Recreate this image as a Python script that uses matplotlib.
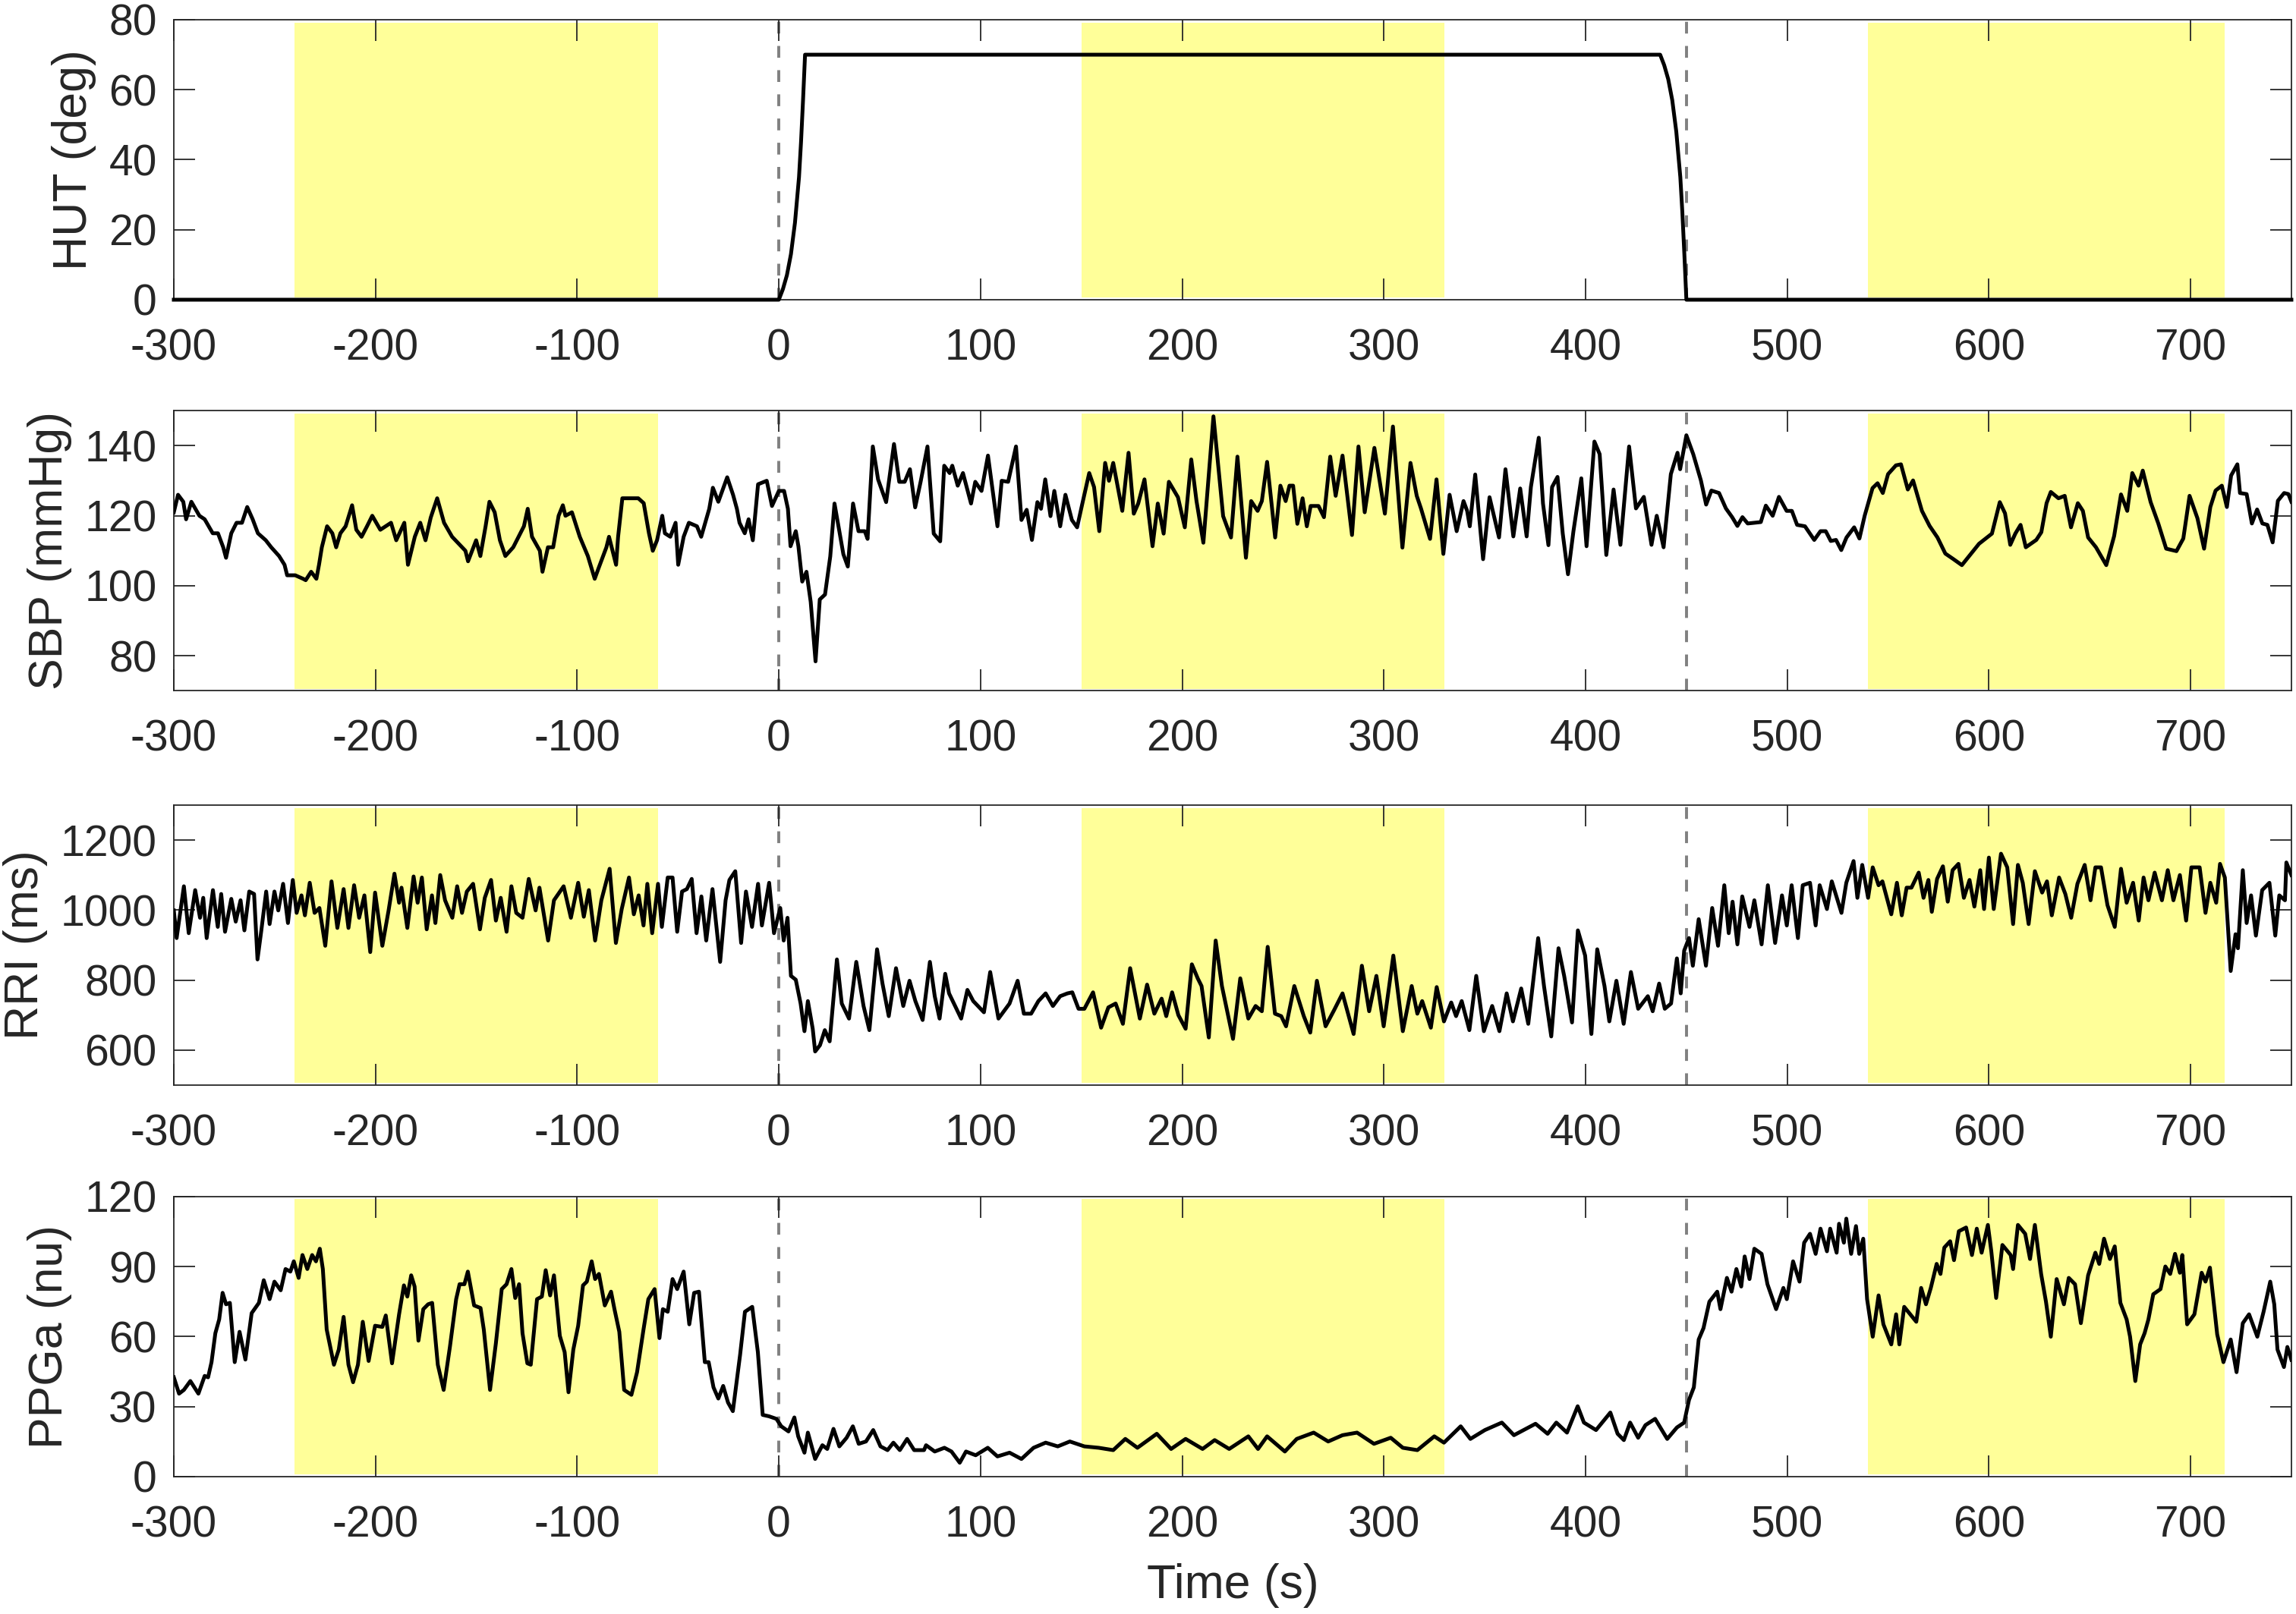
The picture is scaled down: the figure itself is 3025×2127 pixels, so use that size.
import numpy as np
import matplotlib
matplotlib.use('Agg')
import matplotlib.pyplot as plt

# Values: (time s, value)
hut_pts = [(-300, 0), (0, 0), (2, 3), (4, 7), (6, 13), (8, 22), (10, 35), (11, 45), (12, 57), (13, 70),
           (437, 70), (439, 67), (441, 63), (443, 57), (445, 48), (447, 35), (448, 25), (449, 13), (450, 0),
           (750, 0)]

sbp_pts = [(-300, 121), (-297.9, 126), (-295.3, 124), (-293.9, 119), (-291.3, 124), (-287.3, 120), (-284.7, 119),
           (-280.7, 115), (-278.1, 115), (-275.5, 111), (-274.1, 108), (-271.5, 115), (-268.9, 118), (-266.2, 118),
           (-263.6, 122.5), (-260.9, 119), (-258.3, 115), (-254.4, 113), (-251.7, 111), (-247.8, 108.5), (-245.1, 106),
           (-243.8, 103), (-239.8, 103), (-235.9, 102), (-234.6, 101.6), (-231.9, 104), (-229.3, 102), (-228, 106),
           (-226.6, 111), (-224, 117), (-221.4, 115), (-219.5, 111), (-217.4, 115), (-214.8, 117), (-211.6, 123),
           (-209.5, 116), (-206.9, 114), (-204.2, 117), (-201.6, 120), (-197.6, 116), (-192.3, 118), (-189.7, 113),
           (-185.7, 118), (-183.9, 106), (-180.5, 114), (-177.8, 118), (-175.2, 113), (-172.6, 119.5), (-169.4, 125),
           (-166, 118), (-162, 114), (-155.4, 110), (-154.1, 107), (-150.1, 113), (-148, 108.5), (-145.4, 117),
           (-143.5, 124), (-140.9, 121), (-138.3, 113), (-135.6, 108.5), (-131.7, 111), (-126.4, 117), (-124.5, 122),
           (-122.4, 114), (-118.5, 110), (-117.2, 104), (-114.5, 111), (-111.9, 111), (-109.2, 120), (-107.1, 123),
           (-105.8, 120), (-102.6, 121), (-98.7, 114), (-94.7, 108.5), (-91.3, 102), (-89.4, 105), (-85.5, 111),
           (-84.2, 114), (-80.7, 106), (-79.7, 114), (-77.6, 125), (-73.6, 125), (-69.7, 125), (-67, 123.6),
           (-64.4, 115), (-62.5, 110), (-60.4, 113), (-57.8, 120), (-56.5, 115), (-53.8, 114), (-51.2, 118),
           (-49.9, 106), (-47.2, 114), (-44.6, 118), (-40.6, 117), (-38.5, 114), (-34.5, 122), (-32.7, 128),
           (-30, 124), (-25.6, 131), (-22.7, 126), (-20.8, 122), (-19.5, 118), (-16.9, 115), (-15, 119),
           (-12.9, 113), (-10.3, 129), (-6, 130), (-3.4, 122.8), (0, 127.1), (2.6, 127.1), (4.5, 122), (5.8, 111.3),
           (8.4, 115.6), (9.7, 111.3), (11.6, 101.2), (13.7, 104), (15.8, 95.4), (18.2, 78.4), (20.3, 96.1),
           (22.9, 97.5), (25.5, 108.4), (27.6, 123.5), (32, 109), (34.2, 105.5), (36.8, 123.5), (39.5, 115.6),
           (42.6, 115.6), (44, 113.4), (46.6, 139.8), (49.2, 130.4), (53.2, 123.9), (57.1, 140.5), (59.7, 129.7),
           (62.4, 129.7), (65, 133.3), (67.6, 122.4), (70.3, 129.7), (73.7, 139.8), (76.8, 114.9), (80, 112.7),
           (82, 134.3), (84.7, 132.2), (86, 134.3), (88.7, 128.6), (91.3, 132.2), (95.3, 123.5), (97.4, 129.7),
           (100.5, 127.1), (103.7, 137.2), (108.4, 117), (110.5, 130), (113.7, 129.7), (117.6, 139.8),
           (120.3, 118.8), (122.9, 121.7), (125.5, 113.1), (128.2, 123.9), (130, 122), (132.1, 130.4),
           (134.7, 119.9), (136.6, 127.1), (139.5, 117), (142.1, 126), (145.3, 118.8), (147.9, 116.7),
           (150.5, 123.5), (153.9, 132.2), (156.3, 128.2), (158.9, 115.6), (161.8, 135.1), (163.7, 130),
           (165.8, 135.1), (170.3, 121.4), (173.4, 138), (176, 120.6), (178.2, 123.5), (181.3, 130.4),
           (185.3, 111.3), (187.9, 123.5), (190.8, 114.9), (193.4, 129.7), (197.9, 125.3), (201.3, 116.7),
           (204.5, 136.1), (207.1, 124.2), (210.5, 112.3), (215.5, 148.4), (220.3, 119.9), (224.2, 113.8),
           (227.4, 136.9), (231.6, 108), (234.2, 124.2), (237.4, 121.4), (239.5, 124.2), (242.1, 135.4),
           (246.1, 113.8), (248.7, 128.6), (251.3, 124.2), (253.2, 128.6), (255, 128.6), (257.1, 117.7),
           (259.7, 125), (261.8, 117), (263.7, 122.8), (267.6, 122.8), (270.3, 119.6), (273.4, 136.9),
           (276.1, 125.7), (279.5, 137.2), (284.2, 114.5), (287.4, 139.8), (290.5, 121), (295.3, 139.4),
           (300.5, 120.6), (304.5, 145.5), (309.2, 110.9), (313.2, 135.1), (316.3, 125.7), (318.4, 122.1),
           (322.9, 113.4), (326.1, 130.4), (329.5, 109.1), (332.6, 126), (336.1, 115.6), (339.5, 124.2),
           (341.3, 121.4), (342.6, 117), (345.3, 131.8), (349.2, 107.6), (352.4, 125.3), (357.1, 113.8),
           (360.3, 133.3), (364.2, 114.1), (367.6, 127.8), (370.8, 114.1), (372.9, 128.2), (376.8, 142.3),
           (378.9, 123.5), (381.6, 111.6), (383.4, 128.2), (386.1, 131.1), (388.7, 114.9), (391.3, 103.3),
           (394, 115.6), (397.9, 130.7), (400.5, 111.3), (404.4, 141.2), (407, 137.6), (410.3, 108.8),
           (413.9, 127.5), (417.3, 111.7), (421.6, 139.8), (425, 122.1), (428.9, 125.4), (432.7, 111.7),
           (435.3, 120), (438.7, 111), (442.3, 131.9), (445.6, 138), (446.9, 133.3), (450, 143), (453.4, 137.6),
           (457.2, 130.1), (459.8, 123.2), (462.4, 127.2), (466.2, 126.5), (469.6, 122.1), (472.7, 119.6),
           (475.3, 117.1), (477.8, 119.6), (480.4, 117.8), (486.9, 118.2), (489.4, 122.9), (492.8, 120),
           (495.9, 125.4), (499.7, 121.4), (502.3, 121.4), (504.9, 117.4), (508.8, 117), (513.4, 113.1),
           (516.5, 115.6), (519.1, 115.6), (521.6, 112.8), (524.2, 113.1), (526.8, 110.2), (529.4, 113.8),
           (533.2, 116.7), (535.8, 113.5), (538.4, 120), (542.3, 127.9), (544.8, 129.3), (547.4, 126.5),
           (550, 131.9), (553.9, 134.4), (556.4, 134.7), (559.8, 127.5), (562.4, 130.1), (566.8, 121.4),
           (570.6, 117.1), (574.5, 113.8), (578.4, 109.2), (582.2, 107.7), (586.6, 105.9), (591.2, 109.2),
           (595.1, 112), (601.5, 114.9), (605.4, 123.9), (608, 120.7), (610.6, 111.7), (613.1, 114.9),
           (615.7, 117.4), (618.3, 111), (623.5, 113.1), (626, 115.3), (628.6, 123.6), (630.7, 126.8),
           (634.5, 125), (637.6, 125.7), (640.7, 116.7), (644.1, 123.6), (646.6, 121.4), (649.2, 113.8),
           (653.1, 111), (658.2, 105.9), (662.1, 114.2), (665.5, 126.1), (668.6, 121.4), (671.1, 132.2),
           (674.2, 128.6), (676.3, 132.9), (680.2, 123.9), (684, 117.8), (687.9, 110.6), (693, 109.9),
           (696.4, 113.5), (699.5, 125.7), (703.4, 119.3), (706.7, 110.6), (709.8, 122.5), (712.4, 127.2),
           (715.5, 128.6), (718, 122.5), (720.1, 131.5), (723.2, 134.7), (724.5, 126.5), (727.8, 126.2),
           (730.4, 117.8), (733, 121.8), (735.6, 117.8), (738.1, 117.4), (740.7, 112.4), (743.3, 124.3),
           (746.4, 126.5), (748.5, 126.2), (750, 124)]

rri_pts = [(-300, 999), (-298.6, 920), (-295, 1068), (-292.6, 934), (-289.4, 1057), (-287, 978), (-285.4, 1035),
           (-283.7, 920), (-280.6, 1057), (-278.2, 952), (-276.5, 1046), (-274.6, 938), (-271.5, 1032),
           (-269.3, 967), (-266.9, 1028), (-265, 942), (-262.6, 1053), (-260.2, 1046), (-258.5, 859),
           (-256.6, 942), (-254.2, 1053), (-252.5, 960), (-250.1, 1053), (-248.2, 999), (-245.8, 1075),
           (-243.4, 963), (-241, 1086), (-239.1, 992), (-236.7, 1042), (-235, 985), (-232.6, 1078), (-230.2, 992),
           (-227.8, 1006), (-224.9, 898), (-221.8, 1082), (-218.9, 949), (-215.8, 1060), (-213.4, 949),
           (-210.6, 1071), (-208.1, 978), (-205.5, 1042), (-202.6, 880), (-200.2, 1050), (-196.6, 898),
           (-193.5, 999), (-190.6, 1104), (-188.3, 1021), (-187.1, 1064), (-184.2, 949), (-181.1, 1096),
           (-179.1, 1021), (-177, 1093), (-174.6, 945), (-172, 1042), (-170.3, 963), (-167.9, 1100),
           (-165.5, 1028), (-161.9, 978), (-159.5, 1068), (-157.1, 992), (-154.7, 1053), (-151.6, 1075),
           (-148.2, 945), (-145.8, 1035), (-142.7, 1086), (-140.3, 970), (-137.9, 1035), (-135, 938),
           (-132.6, 1068), (-130.2, 992), (-127.1, 978), (-124, 1089), (-120.6, 999), (-118.7, 1064),
           (-114.4, 913), (-111.5, 1028), (-106.7, 1068), (-103.1, 978), (-99.5, 1078), (-96.7, 981),
           (-94.2, 1057), (-91.1, 913), (-88, 1028), (-83.9, 1118), (-80.8, 906), (-77.9, 1003), (-74.3, 1093),
           (-71.9, 988), (-69.5, 1042), (-67.1, 956), (-65.2, 1075), (-62.8, 934), (-59.9, 1075), (-58, 952),
           (-55.1, 1093), (-52.7, 1093), (-50.4, 938), (-48, 1053), (-45.6, 1060), (-43.2, 1089), (-40.8, 934),
           (-38.4, 1039), (-36, 913), (-32.9, 1060), (-29.1, 852), (-26.4, 1028), (-24.5, 1086), (-21.6, 1111),
           (-18.7, 906), (-16.3, 1053), (-13.3, 952), (-10.3, 1075), (-8.4, 956), (-4.8, 1078), (-2.4, 934),
           (0.7, 1006), (2.4, 913), (4.3, 978), (6, 812), (8.4, 801), (10.8, 733), (12.7, 654), (14.4, 740),
           (16.8, 661), (18, 596), (20.4, 614), (22.8, 657), (25.2, 625), (28.8, 859), (31.2, 733), (34.8, 690),
           (38.4, 852), (42, 726), (44.9, 657), (48.7, 888), (51.4, 790), (54.5, 697), (58.1, 834), (61.7, 726),
           (64.8, 798), (67.7, 740), (71.3, 686), (74.9, 852), (77.3, 754), (79.7, 690), (82.5, 818), (84.4, 762),
           (90.4, 690), (93.5, 772), (96.4, 740), (101.7, 708), (104.8, 823), (108.9, 690), (114.4, 733),
           (118.4, 798), (121.5, 704), (125.1, 704), (128.7, 740), (132.3, 762), (135.9, 726), (139.5, 754),
           (143.1, 762), (145.5, 765), (148.6, 718), (151.5, 718), (155.8, 765), (159.8, 664), (163.4, 722),
           (167, 733), (170.6, 675), (174.2, 834), (179, 690), (182.6, 787), (186.2, 704), (189.8, 747),
           (192.1, 697), (195, 765), (198.1, 700), (201.7, 661), (204.8, 845), (207.7, 805), (209.6, 783),
           (213.2, 636), (216.6, 913), (219.7, 783), (225.2, 632), (228.8, 805), (232.8, 690), (236.4, 726),
           (239.5, 711), (242.4, 895), (246, 704), (249.1, 697), (251.5, 668), (255.6, 783), (260.3, 697),
           (263.5, 650), (266.8, 798), (271.1, 668), (275.4, 715), (279.5, 762), (285, 646), (289.1, 841),
           (292.7, 711), (296.3, 812), (299.9, 668), (304.7, 870), (309.4, 654), (313.8, 783), (316.6, 704),
           (319, 740), (323.3, 664), (326.2, 780), (329.8, 682), (333.4, 736), (335.8, 697), (338.6, 740),
           (342.4, 657), (345.8, 812), (349.6, 654), (353.7, 726), (357.3, 654), (360.9, 762), (364, 682),
           (368.1, 776), (371.6, 675), (376.5, 920), (379.4, 783), (383, 639), (386.6, 891), (389.4, 812),
           (393.3, 679), (396.2, 942), (399.8, 870), (402.9, 646), (405.8, 888), (409.4, 783), (411.8, 682),
           (415.3, 798), (418.9, 675), (422.5, 823), (426.1, 718), (430.9, 754), (433.3, 711), (436.5, 790),
           (439.3, 718), (442.4, 733), (445.3, 862), (447.2, 762), (448.9, 884), (451.3, 920), (453.2, 841),
           (456.1, 974), (459.7, 841), (462.8, 1006), (465.7, 898), (468.8, 1071), (471, 934), (472.9, 1024),
           (475.3, 902), (477.7, 1039), (481.3, 952), (483.7, 1028), (487.3, 902), (490.4, 1071), (494, 906),
           (497.4, 1042), (499.8, 956), (502.2, 1071), (505.3, 920), (507.7, 1071), (511.3, 1078), (514.1, 956),
           (516.1, 1071), (519.7, 1003), (522.1, 1082), (526.9, 992), (529.3, 1078), (532.9, 1140),
           (534.8, 1035), (537.2, 1129), (540.1, 1035), (542.4, 1122), (545.3, 1071), (547.2, 1082),
           (551.6, 988), (554.4, 1078), (556.8, 985), (559.2, 1064), (561.6, 1064), (565.2, 1107),
           (567.6, 1035), (570, 1086), (571.7, 995), (574.3, 1089), (577.2, 1125), (579.6, 1024), (582, 1114),
           (584.9, 1132), (587.6, 1035), (590.4, 1086), (592.8, 1010), (595.7, 1114), (597.6, 1003),
           (600, 1150), (602.4, 1003), (606, 1161), (609.1, 1122), (612, 960), (614.4, 1129), (616.8, 1078),
           (619.7, 960), (622.8, 1111), (626.4, 1050), (628.8, 1082), (631.2, 985), (634.8, 1093),
           (637.9, 1046), (640.8, 978), (643.9, 1075), (647.5, 1129), (650.4, 1028), (652.8, 1122),
           (655.6, 1122), (658.8, 1014), (662.4, 952), (665.5, 1118), (668.3, 1021), (671.5, 1078),
           (674.3, 970), (676.7, 1093), (679.1, 1028), (682.2, 1107), (685.8, 1028), (688.7, 1114),
           (691.5, 1028), (694.7, 1100), (697.8, 970), (700.4, 1122), (704.5, 1122), (707.4, 992),
           (709.8, 1078), (712.7, 1021), (714.6, 1132), (717, 1093), (719.9, 826), (722.3, 931), (723.5, 891),
           (725.9, 1114), (727.8, 963), (730, 1042), (732.4, 927), (735.5, 1057), (739.1, 1078), (742, 927),
           (744, 1042), (746.8, 1028), (747.5, 1136), (750, 1100)]

ppga_pts = [(-300, 42.5), (-297.4, 35.5), (-295, 37.1), (-291.8, 40.9), (-287.8, 35.5), (-284.7, 43.1), (-283, 42.5),
            (-281.3, 49), (-279.4, 61.4), (-277.5, 67.3), (-275.8, 78.7), (-274.1, 73.8), (-272.2, 74.4),
            (-269.8, 49), (-267.4, 62), (-264.5, 50.1), (-261.4, 70), (-257.8, 74.4), (-255.4, 84.1),
            (-252.5, 76), (-250.1, 83.5), (-247, 79.8), (-244.6, 88.9), (-242.2, 87.8), (-240.5, 92.2),
            (-238.1, 85.1), (-236.2, 94.9), (-233.8, 88.9), (-231.4, 94.9), (-229.5, 92.2), (-227.6, 97.6),
            (-226.1, 88.9), (-224.2, 63), (-220.6, 47.9), (-218.2, 54.4), (-215.8, 68.4), (-213.4, 47.9),
            (-211.1, 40.4), (-208.7, 47.9), (-206.3, 66.3), (-203.4, 49.5), (-200.2, 64.6), (-196.6, 64.1),
            (-194.9, 69), (-191.8, 48.5), (-188.3, 69.5), (-185.9, 81.9), (-184.2, 77.1), (-182.3, 86.2),
            (-180.6, 81.4), (-178.7, 58.2), (-176.3, 71.7), (-173.9, 73.8), (-171.9, 74.4), (-169.1, 47.9),
            (-166.2, 37.1), (-163.1, 55.5), (-160, 76), (-158.3, 82.4), (-155.9, 82.4), (-154.2, 87.8),
            (-151.1, 73.3), (-147.9, 72.2), (-146.3, 63), (-143.2, 37.1), (-140.3, 57.1), (-137.4, 80.3),
            (-135, 82.4), (-132.6, 88.9), (-130.7, 76.5), (-128.8, 82.4), (-127.1, 61.4), (-124.7, 48.5),
            (-123, 47.9), (-119.9, 76), (-117.5, 77.1), (-115.6, 88.4), (-113.4, 77.6), (-111.5, 86.2),
            (-108.6, 60.3), (-106.2, 53.3), (-104.3, 36.1), (-101.9, 54.4), (-99.5, 64.6), (-97.1, 81.9),
            (-95.2, 83.5), (-92.8, 92.2), (-91.1, 84.6), (-89.2, 86.8), (-86.3, 73.3), (-83.2, 79.2),
            (-81.5, 71.7), (-79.1, 62), (-76.7, 37.1), (-73.1, 35), (-70.3, 44.7), (-67.1, 63), (-64.7, 76),
            (-61.6, 80.3), (-59.2, 59.3), (-57.5, 71.7), (-55.1, 70.6), (-52.7, 84.6), (-50.4, 80.3),
            (-47.2, 87.8), (-44.4, 65.2), (-42, 78.7), (-39.6, 79.2), (-36.7, 49), (-34.8, 49), (-32.4, 38.2),
            (-30, 33.4), (-27.6, 38.8), (-25.2, 31.7), (-22.8, 28), (-19.2, 52.2), (-16.8, 70.6), (-13.2, 72.7),
            (-10.4, 53.3), (-8, 26.4), (-4.9, 25.8), (-1.2, 24.7), (1.2, 21.5), (4.8, 19.3), (7.7, 25.3),
            (9.6, 17.2), (12.7, 10.2), (14.4, 18.8), (18, 7.5), (21.6, 13.4), (24, 11.8), (27.1, 20.4), (30, 12.9),
            (33.6, 16.6), (36.7, 21.5), (39.6, 14), (43.2, 15), (46.8, 19.9), (50.4, 12.9), (53.9, 11.3),
            (56.8, 14.5), (60, 11.3), (63.6, 16.1), (67.1, 11.3), (72, 11.3), (73, 13.4), (77.3, 10.7),
            (82.1, 12.3), (85.6, 10.7), (89.7, 5.9), (92.8, 10.7), (97.6, 9.1), (103.6, 12.3), (108.4, 8.6),
            (114.4, 10.2), (120.3, 7.5), (126.3, 12.3), (132.3, 14.5), (138.3, 12.9), (144.3, 15), (151.5, 12.9),
            (158.6, 12.3), (165.8, 11.3), (171.8, 16.1), (177.8, 12.3), (187.4, 18.3), (194.5, 11.8),
            (201.7, 16.1), (210.1, 11.8), (216.1, 15.6), (223.3, 11.8), (232.8, 17.2), (237.6, 11.8),
            (242.1, 17.2), (250.9, 10.7), (256.8, 16.1), (265.2, 18.8), (272.4, 15), (279.5, 17.7),
            (286.7, 18.8), (295.1, 14), (303.4, 16.6), (309.4, 12.3), (316.6, 11.3), (325, 17.2), (329.8, 14.5),
            (338.1, 21.5), (342.9, 16.1), (350.1, 19.9), (358.5, 23.1), (364.5, 17.7), (375.2, 22.6),
            (381.2, 18.3), (385.5, 23.1), (390.8, 18.8), (396.1, 30.1), (399.2, 23.1), (405.2, 19.9),
            (412.3, 27.4), (415.9, 18.3), (419, 15.6), (422.1, 23.1), (426.1, 16.6), (429.7, 22), (434.5, 24.7),
            (440.5, 16.1), (445.3, 21), (448.9, 23.1), (451.3, 32.8), (453.7, 38.2), (456.1, 58.7),
            (458.5, 63.6), (461.4, 74.9), (465.3, 79.2), (466.9, 71.7), (470.1, 85.1), (472.4, 79.2),
            (474.8, 88.9), (477.2, 81.4), (478.9, 94.3), (481.3, 84.6), (483.7, 97.6), (487.3, 95.4),
            (490.2, 82.4), (494.5, 71.7), (498.1, 80.8), (499.8, 76), (502.9, 92.2), (506.1, 83.5),
            (508.4, 100.2), (511.3, 104), (514.1, 95.4), (516.5, 106.2), (519.7, 96.5), (521.3, 106.2),
            (524.5, 95.9), (525.7, 108.3), (528.1, 100.2), (529.3, 110.5), (531.7, 95.4), (534.1, 107.3),
            (535.7, 95.4), (537.7, 101.9), (539.6, 76), (542.4, 59.9), (545.3, 77.6), (547.7, 65.2),
            (551.6, 56.6), (554, 69.5), (555.6, 56.6), (558, 72.7), (564, 66.3), (566.4, 80.8), (568.8, 73.8),
            (571.2, 80.8), (574.1, 91.1), (576, 86.8), (577.9, 98.1), (580.8, 100.8), (582.7, 92.7),
            (585.1, 105.1), (588.7, 106.7), (591.6, 94.9), (594, 106.2), (596.4, 95.9), (599.5, 107.8),
            (601.2, 96.5), (603.6, 76.5), (606.7, 99.2), (610.8, 94.9), (612, 88.9), (614.4, 107.8), (618, 104),
            (620.4, 93.2), (622.8, 107.8), (625.9, 86.8), (628.3, 74.9), (630.7, 59.9), (633.6, 84.6),
            (637.2, 73.8), (639.6, 85.1), (642.7, 82.4), (645.6, 65.7), (649.2, 86.2), (652.8, 95.9),
            (654.7, 91.1), (657.1, 101.9), (660, 93.2), (662.4, 98.6), (665.2, 74.4), (668.3, 67.3), (670, 59.9),
            (672.6, 40.9), (675, 56.6), (677.2, 61.4), (679.1, 67.3), (681.5, 78.1), (685.1, 80.3), (687.5, 90),
            (689.9, 86.8), (692.3, 95.4), (694.7, 87.3), (695.9, 94.9), (698.3, 65.2), (701.9, 69.5),
            (705.5, 87.3), (707.4, 83.5), (709.6, 89.5), (713.2, 60.9), (716.3, 49), (719.9, 58.7), (722.8, 44.7),
            (725.9, 65.7), (729, 69.5), (733.1, 59.9), (736.2, 70.6), (739.5, 83.5), (741.5, 73.8),
            (743.1, 54.4), (746.3, 46.9), (748, 55.5), (750, 50)]

# analysis windows (yellow) and tilt start/end markers
windows = [(-240, -60), (150, 330), (540, 717)]
events = [0, 450]

labels = ['HUT (deg)', 'SBP (mmHg)', 'RRI (ms)', 'PPGa (nu)']
ylims = [(0, 80), (70, 150), (500, 1300), (0, 120)]
yticks = [range(0, 81, 20), range(80, 141, 20), range(600, 1201, 200), range(0, 121, 30)]
xticks = range(-300, 701, 100)

plt.rcParams['font.family'] = ['Liberation Sans', 'DejaVu Sans']
plt.rcParams['axes.unicode_minus'] = False

dark = '#262626'
fig = plt.figure(figsize=(30.25, 21.27), dpi=100)

left, width, height = 0.0757, 0.9223, 0.1735
bottoms = [0.8143, 0.5720, 0.3277, 0.0852]

series = [hut_pts, sbp_pts, rri_pts, ppga_pts]
for i, pts in enumerate(series):
    ax = fig.add_axes([left, bottoms[i], width, height])
    t, v = np.array(pts).T

    for a, b in windows:
        ax.axvspan(a, b, ymin=0.007, ymax=0.99, facecolor='#FFFF99', edgecolor='none', zorder=0)
    for e in events:
        ax.axvline(e, color='#808080', lw=2.8, dashes=(4, 4.2), zorder=1)

    ax.plot(t, v, color='black', lw=3.6, zorder=3, clip_on=(i != 0),
            solid_joinstyle='round')

    ax.set_xlim(-300, 750)
    ax.set_ylim(*ylims[i])
    ax.set_xticks(list(xticks))
    ax.set_yticks(list(yticks[i]))
    ax.set_ylabel(labels[i], fontsize=45, color=dark, labelpad=12)

    ax.tick_params(axis='both', direction='in', top=True, right=True, length=20, width=1.3,
                   colors=dark, labelsize=41)
    ax.tick_params(axis='x', pad=27)
    ax.tick_params(axis='y', pad=16)
    for s in ax.spines.values():
        s.set_color(dark)
        s.set_linewidth(1.3)
        s.set_zorder(2)

    if i == 3:
        ax.set_xlabel('Time (s)', fontsize=45, color=dark, labelpad=16)

fig.savefig('out.png', dpi=100)
